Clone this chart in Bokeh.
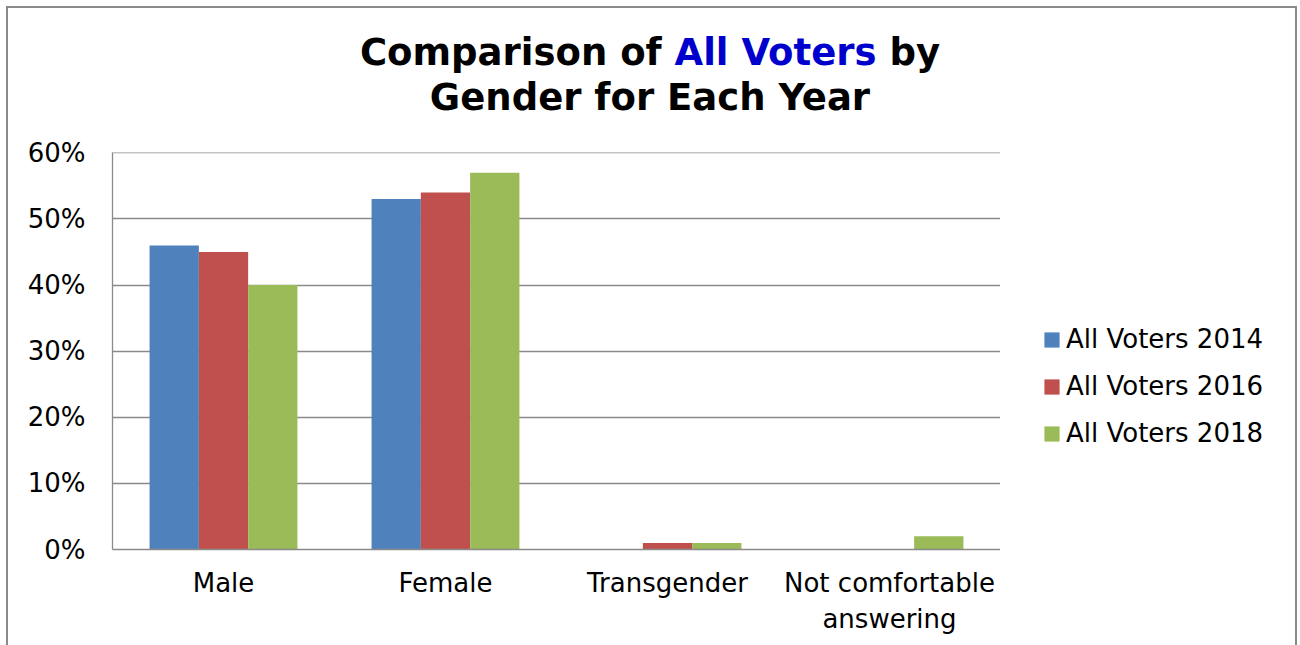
from bokeh.plotting import figure
from bokeh.models import (FactorRange, Range1d, ColumnDataSource, Div,
                          Legend, LegendItem, PrintfTickFormatter, FixedTicker)
from bokeh.layouts import column, row
from bokeh.transform import dodge
from bokeh.embed import file_html
from bokeh.resources import INLINE

categories = ["Male", "Female", "Transgender", "Not comfortable\nanswering"]
series_names = ["All Voters 2014", "All Voters 2016", "All Voters 2018"]
values_2014 = [46, 53, 0, 0]
values_2016 = [45, 54, 1, 0]
values_2018 = [40, 57, 1, 2]
y_ticks = [0, 10, 20, 30, 40, 50, 60]
colors = ["#4F81BD", "#C0504D", "#9BBB59"]
title_parts = ["Comparison of ", "All Voters", " by", "Gender for Each Year"]

FONT = "DejaVu Sans"
GRAY = "#8a8a8a"

source = ColumnDataSource(dict(cat=categories, v2014=values_2014, v2016=values_2016, v2018=values_2018))

p = figure(width=1000, height=515, output_backend="svg", toolbar_location=None,
           x_range=FactorRange(*categories, range_padding=0), y_range=Range1d(0, 60.05),
           min_border_left=112, min_border_right=0, min_border_top=22, min_border_bottom=96)
p.outline_line_color = None
p.background_fill_color = "white"
p.border_fill_color = None

bw = 0.222
for i, col in enumerate(["v2014", "v2016", "v2018"]):
    p.vbar(x=dodge("cat", (i - 1) * bw, range=p.x_range), top=col, width=bw,
           source=source, fill_color=colors[i], line_color=None)

p.xgrid.grid_line_color = None
p.ygrid.grid_line_color = GRAY
p.ygrid.grid_line_width = 1.3
p.yaxis.ticker = FixedTicker(ticks=y_ticks)
p.yaxis.formatter = PrintfTickFormatter(format="%d%%")
for ax in (p.xaxis[0], p.yaxis[0]):
    ax.axis_line_color = GRAY
    ax.axis_line_width = 1.3
    ax.major_tick_line_color = None
    ax.minor_tick_line_color = None
    ax.major_tick_out = 0
    ax.major_tick_in = 0
    ax.major_label_text_font = FONT
    ax.major_label_text_font_size = "26px"
    ax.major_label_text_color = "black"
p.yaxis.major_label_standoff = 27
p.xaxis.major_label_standoff = 18

# legend lives in a small companion figure to the right
lf = figure(width=300, height=515, output_backend="svg", toolbar_location=None,
            x_range=Range1d(0, 1), y_range=Range1d(0, 1),
            min_border_left=0, min_border_right=0, min_border_top=0, min_border_bottom=0)
lf.axis.visible = False
lf.grid.visible = False
lf.outline_line_color = None
lf.background_fill_color = None
lf.border_fill_color = None
items = []
for i, name in enumerate(series_names):
    # off-screen proxy bar so the legend swatch gets its colour
    r = lf.vbar(x=[-5], top=[0], width=0.1, fill_color=colors[i], line_color=None)
    items.append(LegendItem(label=name, renderers=[r]))
legend = Legend(items=items, location=(42, 101), orientation="vertical",
                glyph_width=19, glyph_height=19, label_height=30, spacing=17,
                label_standoff=5, padding=0, margin=0,
                border_line_color=None, background_fill_alpha=0,
                label_text_font=FONT, label_text_font_size="26px", label_text_color="black")
lf.add_layout(legend, "center")

title_html = (
    '<div style="font-family:\'DejaVu Sans\';font-size:37px;font-weight:bold;color:black;'
    'text-align:center;line-height:45px;padding-top:30px;padding-left:6px;width:1294px;">'
    f'{title_parts[0]}<span style="color:#0000CC">{title_parts[1]}</span>{title_parts[2]}<br>'
    f'{title_parts[3]}</div>'
)
title_div = Div(text=title_html, width=1300, height=130, margin=0)

border_css = {
    "background-image": ", ".join([f"linear-gradient({GRAY}, {GRAY})"] * 3),
    "background-size": "2px 700px, 1290px 2px, 2px 700px",
    "background-position": "6px 6px, 6px 6px, 1295px 6px",
    "background-repeat": "no-repeat",
    "background-color": "white",
}
layout = column(title_div, row(p, lf, spacing=0, margin=0), width=1300, height=645,
                spacing=0, margin=0, styles=border_css)

open("out.html", "w").write(file_html(layout, INLINE))
